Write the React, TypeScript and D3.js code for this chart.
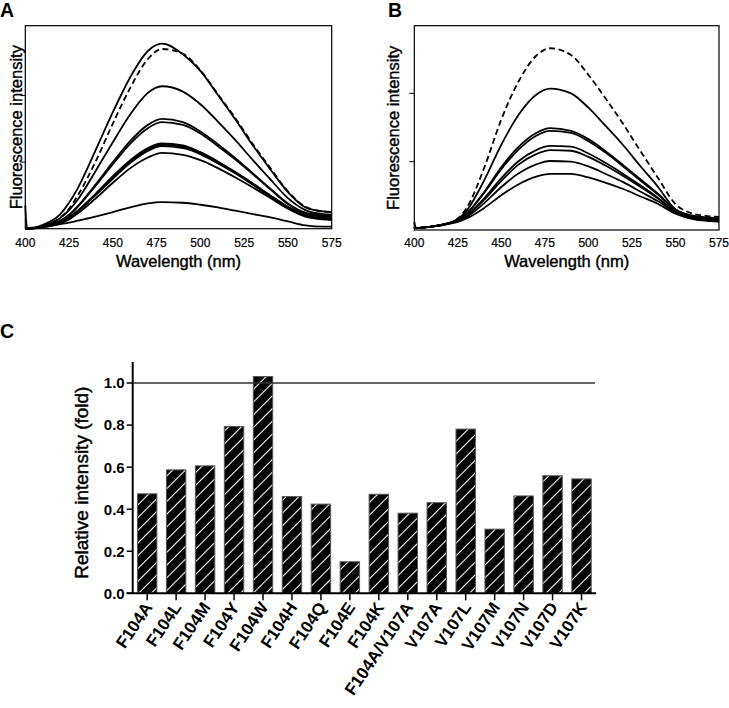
import React from "react";
import * as d3 from "d3";

// ---------- Data ----------
const wavelengths = [400, 401, 410, 420, 425, 430, 440, 450, 460, 470, 478, 490, 500, 510, 520, 530, 540, 550, 560, 570, 575];
const xTicks = [400, 425, 450, 475, 500, 525, 550, 575];

// Panel A: F104 mutants (solid) + wild type (dashed)
const aWT = [0, 0, 0.04, 0.17, 0.30, 0.50, 1.00, 1.58, 2.12, 2.55, 2.70, 2.63, 2.38, 2.02, 1.66, 1.27, 0.91, 0.56, 0.33, 0.26, 0.25];
const aF104W = [0, 0, 0.06, 0.22, 0.39, 0.61, 1.17, 1.75, 2.28, 2.67, 2.78, 2.62, 2.37, 2.01, 1.64, 1.25, 0.89, 0.55, 0.32, 0.26, 0.25];
const aF104Y = [0, 0, 0.04, 0.16, 0.28, 0.44, 0.86, 1.30, 1.72, 2.04, 2.14, 2.06, 1.87, 1.61, 1.33, 1.03, 0.74, 0.46, 0.28, 0.22, 0.21];
const aF104M = [0, 0, 0.03, 0.12, 0.21, 0.34, 0.66, 1.00, 1.32, 1.56, 1.65, 1.60, 1.46, 1.27, 1.06, 0.83, 0.60, 0.38, 0.24, 0.20, 0.19];
const aF104L = [0, 0, 0.03, 0.12, 0.20, 0.33, 0.64, 0.97, 1.28, 1.51, 1.60, 1.56, 1.43, 1.24, 1.04, 0.82, 0.59, 0.37, 0.23, 0.19, 0.18];
const aF104A = [0, 0, 0.03, 0.10, 0.17, 0.27, 0.52, 0.79, 1.03, 1.21, 1.28, 1.25, 1.15, 1.01, 0.85, 0.68, 0.50, 0.33, 0.21, 0.17, 0.16];
const aF104K = [0, 0, 0.03, 0.10, 0.17, 0.27, 0.51, 0.77, 1.01, 1.19, 1.26, 1.23, 1.14, 1.00, 0.84, 0.67, 0.49, 0.32, 0.20, 0.16, 0.15];
const aF104H = [0, 0, 0.02, 0.09, 0.16, 0.26, 0.50, 0.75, 0.99, 1.17, 1.24, 1.21, 1.12, 0.98, 0.83, 0.66, 0.48, 0.31, 0.19, 0.15, 0.14];
const aF104Q = [0, 0, 0.02, 0.08, 0.14, 0.23, 0.45, 0.69, 0.91, 1.07, 1.14, 1.11, 1.03, 0.91, 0.77, 0.62, 0.46, 0.30, 0.18, 0.14, 0.13];
const aF104E = [0.35, 0.01, 0.03, 0.07, 0.09, 0.12, 0.18, 0.25, 0.32, 0.38, 0.40, 0.39, 0.36, 0.32, 0.27, 0.22, 0.17, 0.11, 0.05, 0.03, 0.03];

// Panel B: V107 mutants (solid) + wild type (dashed)
const bWT = [0.12, 0.03, 0.05, 0.10, 0.17, 0.32, 0.90, 1.62, 2.18, 2.55, 2.66, 2.56, 2.27, 1.92, 1.55, 1.15, 0.76, 0.38, 0.24, 0.20, 0.19];
const bV107L = [0.05, 0.03, 0.05, 0.10, 0.16, 0.28, 0.72, 1.25, 1.69, 1.98, 2.07, 2.00, 1.79, 1.52, 1.24, 0.93, 0.63, 0.30, 0.21, 0.18, 0.17];
const bV107D = [0.05, 0.03, 0.05, 0.10, 0.15, 0.24, 0.55, 0.92, 1.22, 1.42, 1.49, 1.45, 1.33, 1.15, 0.95, 0.74, 0.53, 0.30, 0.20, 0.17, 0.16];
const bV107K = [0.05, 0.03, 0.05, 0.10, 0.15, 0.24, 0.54, 0.89, 1.18, 1.38, 1.45, 1.42, 1.30, 1.13, 0.93, 0.72, 0.52, 0.29, 0.19, 0.16, 0.15];
const bV107N = [0.05, 0.03, 0.05, 0.10, 0.14, 0.21, 0.46, 0.76, 1.01, 1.17, 1.23, 1.22, 1.12, 0.98, 0.82, 0.65, 0.47, 0.27, 0.18, 0.15, 0.14];
const bV107A = [0.05, 0.03, 0.05, 0.10, 0.14, 0.21, 0.44, 0.72, 0.96, 1.11, 1.17, 1.16, 1.07, 0.94, 0.79, 0.63, 0.46, 0.27, 0.18, 0.15, 0.14];
const bF104AV107A = [0.05, 0.03, 0.05, 0.10, 0.13, 0.19, 0.39, 0.63, 0.83, 0.96, 1.01, 1.00, 0.93, 0.82, 0.70, 0.56, 0.42, 0.26, 0.17, 0.14, 0.13];
const bV107M = [0.05, 0.03, 0.05, 0.09, 0.12, 0.17, 0.32, 0.51, 0.67, 0.78, 0.82, 0.82, 0.77, 0.69, 0.60, 0.49, 0.38, 0.24, 0.16, 0.13, 0.12];

const aSolid = [aF104W, aF104Y, aF104M, aF104L, aF104A, aF104K, aF104H, aF104Q, aF104E];
const bSolid = [bV107L, bV107D, bV107K, bV107N, bV107A, bF104AV107A, bV107M];

// Panel C
const mutants = ["F104A", "F104L", "F104M", "F104Y", "F104W", "F104H", "F104Q", "F104E", "F104K", "F104A/V107A", "V107A", "V107L", "V107M", "V107N", "V107D", "V107K"];
const relIntensity = [0.473, 0.587, 0.606, 0.793, 1.031, 0.46, 0.424, 0.15, 0.471, 0.381, 0.431, 0.781, 0.305, 0.463, 0.559, 0.544];
const cTicks = [0, 0.2, 0.4, 0.6, 0.8, 1.0];

const FONT = "Liberation Sans, Arial, Helvetica, sans-serif";

type SpecProps = {
  x0: number; x1: number; y0: number; y1: number; yMax: number;
  solid: number[][]; dashed: number[]; label: string; labelX: number; titleX: number;
};

function Spectrum({ x0, x1, y0, y1, yMax, solid, dashed, label, labelX, titleX }: SpecProps) {
  const x = d3.scaleLinear().domain([400, 575]).range([x0, x1]);
  const y = d3.scaleLinear().domain([0, yMax]).range([y1, y0]);
  const line = d3
    .line<number>()
    .x((_, i) => x(wavelengths[i]))
    .y((d) => y(d))
    .curve(d3.curveMonotoneX);
  return (
    <g>
      <text x={labelX} y={17} fontFamily={FONT} fontWeight="bold" fontSize={19.5}>{label}</text>
      {solid.map((s, i) => (
        <path key={i} d={line(s) || ""} fill="none" stroke="#000" strokeWidth={1.8} />
      ))}
      <path d={line(dashed) || ""} fill="none" stroke="#000" strokeWidth={1.8} strokeDasharray="6,3.5" />
      <rect x={x0} y={y0} width={x1 - x0} height={y1 - y0} fill="none" stroke="#000" strokeWidth={1.2} />
      {[1, 2].map((t) => (
        <line key={t} x1={x0 - 5} x2={x0} y1={y(t)} y2={y(t)} stroke="#000" strokeWidth={1} />
      ))}
      {xTicks.map((t) => (
        <text key={t} x={x(t)} y={247} textAnchor="middle" fontFamily={FONT} fontSize={12} stroke="#000" strokeWidth={0.2}>{t}</text>
      ))}
      <text x={(x0 + x1) / 2} y={267} textAnchor="middle" fontFamily={FONT} fontSize={16.5} stroke="#000" strokeWidth={0.4}>Wavelength (nm)</text>
      <text transform={`translate(${titleX},${(y0 + y1) / 2}) rotate(-90)`} textAnchor="middle" fontFamily={FONT} fontSize={16.5} stroke="#000" strokeWidth={0.4}>Fluorescence intensity</text>
    </g>
  );
}

function BarPanel() {
  const axX = 132.7;
  const xEnd = 596;
  const x = d3.scaleBand<string>().domain(mutants).range([axX, xEnd]).paddingInner(0.33).paddingOuter(0.165);
  const y = d3.scaleLinear().domain([0, 1.1]).range([593.3, 362]);
  return (
    <g>
      <defs>
        <pattern id="hatch" patternUnits="userSpaceOnUse" width={9} height={9} patternTransform="rotate(45)">
          <rect width={9} height={9} fill="#000" />
          <line x1={4.5} y1={0} x2={4.5} y2={9} stroke="#fff" strokeWidth={1.1} />
        </pattern>
      </defs>
      <text x={0} y={338} fontFamily={FONT} fontWeight="bold" fontSize={19.5}>C</text>
      {mutants.map((m, i) => (
        <rect key={m} x={x(m)} y={y(relIntensity[i])} width={x.bandwidth()} height={y(0) - y(relIntensity[i])}
          fill="url(#hatch)" stroke="#555" strokeWidth={1} />
      ))}
      <line x1={axX} x2={595} y1={y(1)} y2={y(1)} stroke="#333" strokeWidth={1.5} />
      <line x1={axX} x2={axX} y1={y(1.1)} y2={y(0)} stroke="#000" strokeWidth={2} />
      <line x1={axX - 6} x2={xEnd} y1={y(0)} y2={y(0)} stroke="#000" strokeWidth={2} />
      {cTicks.map((t) => (
        <g key={t}>
          <line x1={axX - 6} x2={axX} y1={y(t)} y2={y(t)} stroke="#000" strokeWidth={1.5} />
          <text x={axX - 8} y={y(t)} dy="0.36em" textAnchor="end" fontFamily={FONT} fontWeight="bold" fontSize={15}>{t.toFixed(1)}</text>
        </g>
      ))}
      {mutants.map((m) => {
        const cx = (x(m) as number) + x.bandwidth() / 2;
        return (
          <g key={m}>
            <line x1={cx} x2={cx} y1={y(0)} y2={y(0) + 7} stroke="#000" strokeWidth={1.5} />
            <text transform={`translate(${cx + 6},${y(0) + 14}) rotate(-56)`} textAnchor="end" fontFamily={FONT} fontWeight="bold" fontSize={17}>{m}</text>
          </g>
        );
      })}
      <text transform={`translate(88,${(y(0) + y(1.1)) / 2 + 5}) rotate(-90)`} textAnchor="middle" fontFamily={FONT} fontSize={19} stroke="#000" strokeWidth={0.45}>Relative intensity (fold)</text>
    </g>
  );
}

export default function App() {
  return (
    <svg width={729} height={708} style={{ position: "absolute", left: 0, top: 0, background: "#fff" }}>
      <rect width={729} height={708} fill="#fff" />
      <Spectrum x0={25.3} x1={331.7} y0={25.7} y1={228.7} yMax={3.05} solid={aSolid} dashed={aWT} label="A" labelX={0} titleX={21.5} />
      <Spectrum x0={414.3} x1={719} y0={25.7} y1={230} yMax={2.99} solid={bSolid} dashed={bWT} label="B" labelX={388} titleX={399} />
      <BarPanel />
    </svg>
  );
}
